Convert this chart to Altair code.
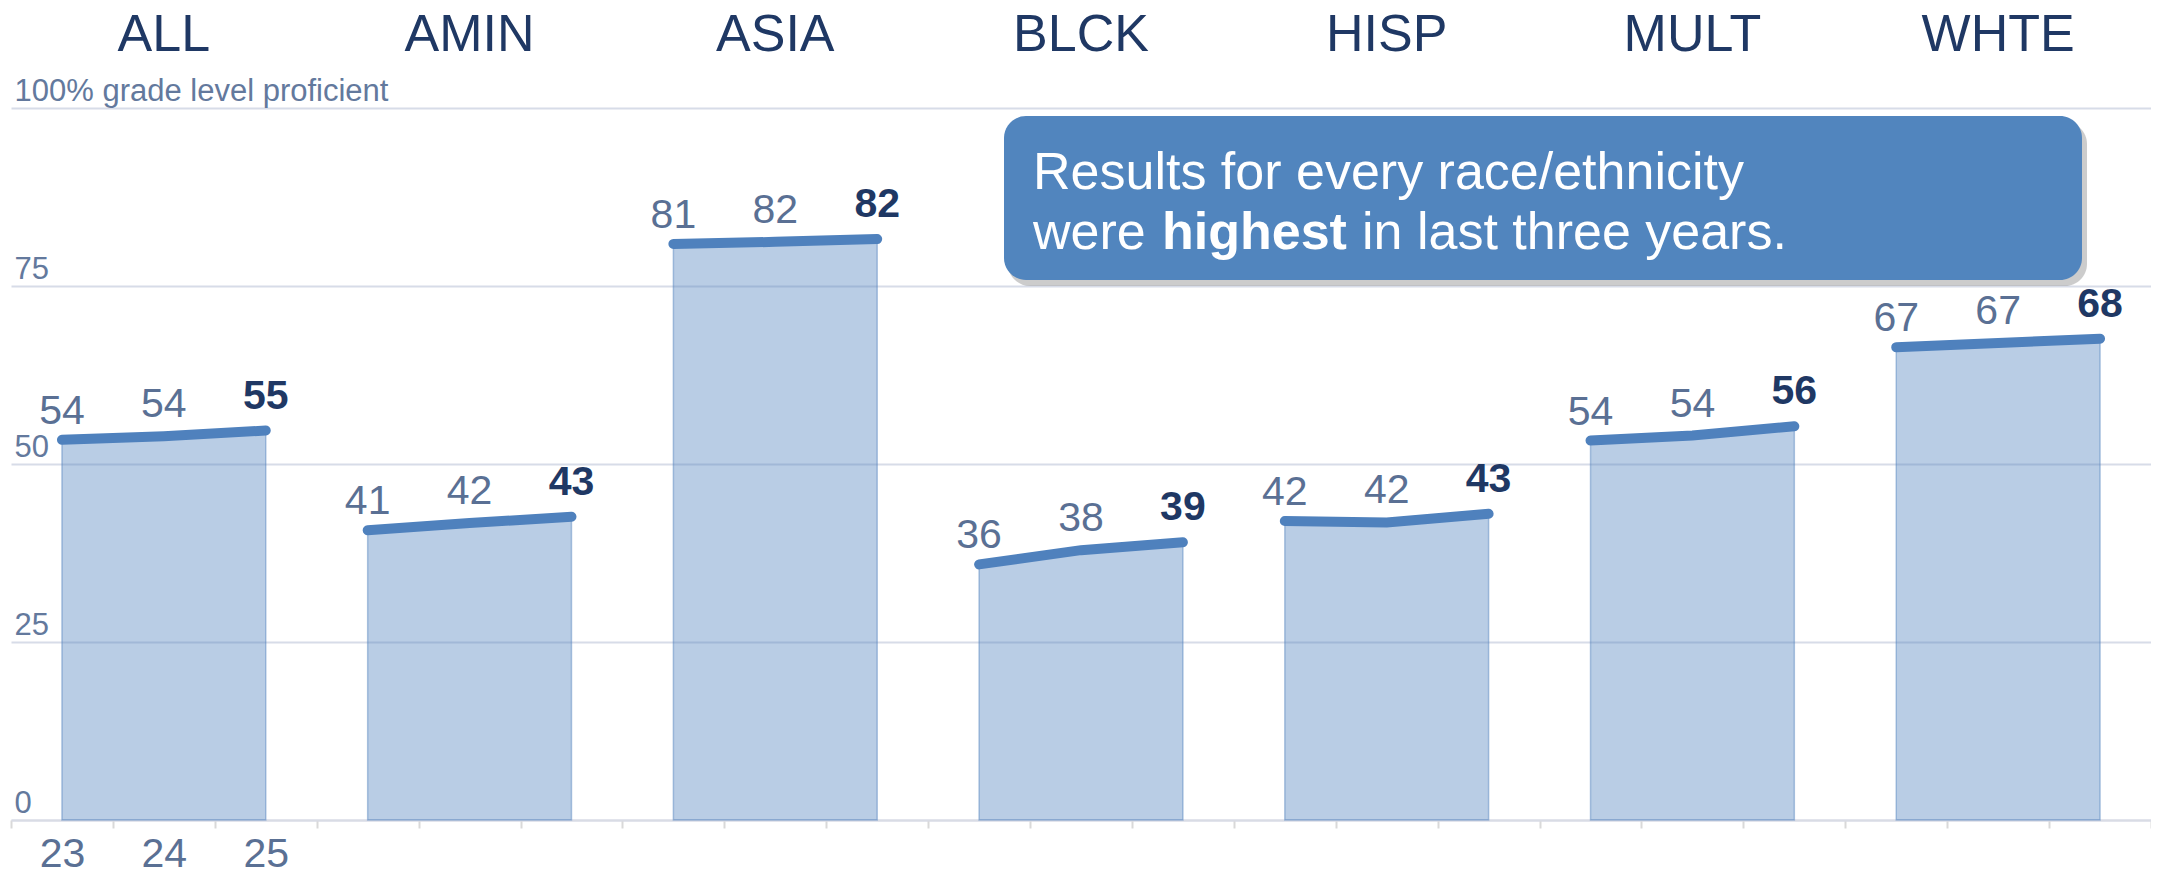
import altair as alt
import pandas as pd

# ---------------- data ----------------
groups = ["ALL", "AMIN", "ASIA", "BLCK", "HISP", "MULT", "WHTE"]
years = ["23", "24", "25"]
vals_23 = [53.4, 40.7, 80.9, 35.9, 42.0, 53.3, 66.4]
vals_24 = [53.9, 41.7, 81.2, 37.9, 41.8, 54.0, 67.0]
vals_25 = [54.7, 42.6, 81.6, 39.0, 43.0, 55.3, 67.6]
labels_23 = ["54", "41", "81", "36", "42", "54", "67"]
labels_24 = ["54", "42", "82", "38", "42", "54", "67"]
labels_25 = ["55", "43", "82", "39", "43", "56", "68"]
y_ticks = [0, 25, 50, 75, 100]
top_tick_label = "100% grade level proficient"
callout_line1 = "Results for every race/ethnicity"
callout_line2 = ["were", "highest", "in last three years."]

# ---------------- styling ----------------
FONT = "Liberation Sans"
W, H = 2140, 712
PAD = {"left": 3, "top": 100, "right": 0, "bottom": 56}
LINE_BLUE = "#4f81bd"
NAVY = "#1f3864"
SLATE = "#5a7094"
AXIS_SLATE = "#63799d"
GRID = "#d7dce8"

rows = []
for gi, g in enumerate(groups):
    for yi, (yr, vals, labs) in enumerate(
        zip(years, [vals_23, vals_24, vals_25], [labels_23, labels_24, labels_25])
    ):
        rows.append({"group": g, "year": yr, "yi": yi,
                     "pos": gi * 3 + yi + 0.5,
                     "value": vals[gi], "label": labs[gi]})
df = pd.DataFrame(rows)
hdr = pd.DataFrame({"group": groups,
                    "pos": [gi * 3 + 1.5 for gi in range(len(groups))]})

n_slots = len(groups) * len(years)
xscale = alt.Scale(domain=[0, n_slots], nice=False, zero=False)
yscale = alt.Scale(domain=[0, 100], nice=False, zero=True)

tick_values = sorted(list(range(n_slots + 1)) + [i + 0.5 for i in range(len(years))])
label_expr = "".join(
    f"datum.value === {i + 0.5} ? '{yr}' : " for i, yr in enumerate(years)
) + "''"

x_axis = alt.Axis(
    values=tick_values, title=None, grid=False,
    domainColor="#d9dce5", domainWidth=2,
    tickColor="#d9d9d9", tickWidth=2, tickSize=8,
    tickOpacity={"condition": {"test": "datum.value % 1 !== 0", "value": 0}, "value": 1},
    labelExpr=label_expr, labelFont=FONT, labelFontSize=41, labelColor=SLATE,
    labelPadding=6, labelOverlap=False, labelFlush=False, labelBaseline="top",
)
y_axis = alt.Axis(
    values=y_ticks, title=None, domain=False, ticks=False, tickSize=0,
    grid=True, gridColor=GRID, gridWidth=2,
    labelAlign="left", labelBaseline="alphabetic", labelPadding=-3, labelOffset=-8,
    labelFont=FONT, labelFontSize=31, labelColor=AXIS_SLATE, labelLimit=0,
    labelExpr=f"datum.value === 100 ? '{top_tick_label}' : datum.label",
    labelFlush=False, labelOverlap=False,
)

X = alt.X("pos:Q", scale=xscale, axis=x_axis)
Y = alt.Y("value:Q", scale=yscale, axis=y_axis, stack=None)

base = alt.Chart(df)

area = base.mark_area(
    color=LINE_BLUE, fillOpacity=0.4, stroke=LINE_BLUE, strokeOpacity=0.45, strokeWidth=1.5
).encode(x=X, y=Y, detail="group:N")

line = base.mark_line(color=LINE_BLUE, strokeWidth=10, strokeCap="round").encode(
    x=X, y=Y, detail="group:N"
)

def value_labels(year_idx, dy, bold):
    return base.transform_filter(alt.datum.yi == year_idx).mark_text(
        font=FONT, fontSize=41, fontWeight="bold" if bold else "normal",
        color=NAVY if bold else SLATE, align="center", baseline="alphabetic", dy=dy,
    ).encode(x=X, y=Y, text="label:N")

lab23 = value_labels(0, -16, False)
lab24 = value_labels(1, -19, False)
lab25 = value_labels(2, -22, True)

headers = alt.Chart(hdr).mark_text(
    font=FONT, fontSize=52, color=NAVY, align="center", baseline="alphabetic"
).encode(x=X, y=alt.value(-57), text="group:N")

# ---------------- callout ----------------
BOX_X0, BOX_X1, BOX_Y0, BOX_Y1 = 993, 2071, 8, 172
one = pd.DataFrame({"t": [""]})
shadow = alt.Chart(one).mark_rect(
    color="#7f7f7f", opacity=0.4, cornerRadius=22
).encode(
    x=alt.value(BOX_X0 + 4), x2=alt.value(BOX_X1 + 5),
    y=alt.value(BOX_Y0 + 6), y2=alt.value(BOX_Y1 + 6),
)
box = alt.Chart(one).mark_rect(color="#5185be", cornerRadius=22).encode(
    x=alt.value(BOX_X0), x2=alt.value(BOX_X1),
    y=alt.value(BOX_Y0), y2=alt.value(BOX_Y1),
)

TX, L1, L2, CFS = 1022, 81, 141, 52

def callout_text(txt, dx, yline, bold=False):
    return alt.Chart(pd.DataFrame({"t": [txt]})).mark_text(
        font=FONT, fontSize=CFS, fontWeight="bold" if bold else "normal",
        color="white", align="left", baseline="alphabetic",
    ).encode(x=alt.value(TX + dx), y=alt.value(yline), text="t:N")

c1 = callout_text(callout_line1, 0, L1)
c2a = callout_text(callout_line2[0], 0, L2)
c2b = callout_text(callout_line2[1], 129, L2, bold=True)
c2c = callout_text(callout_line2[2], 329, L2)

chart = alt.layer(
    area, line, lab23, lab24, lab25, headers, shadow, box, c1, c2a, c2b, c2c
).properties(
    width=W, height=H, padding=PAD, background="white",
    autosize=alt.AutoSizeParams(type="none"),
).configure_view(stroke=None)

chart.save("out.html", embed_options={"renderer": "svg", "actions": False})
